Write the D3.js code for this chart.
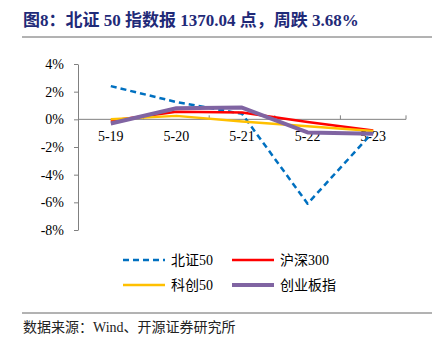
<!DOCTYPE html>
<html>
<head>
<meta charset="utf-8">
<script src="https://cdn.jsdelivr.net/npm/d3@7"></script>
<style>
  body { margin: 0; background: #fff; }
  svg { display: block; }
</style>
</head>
<body>
<svg id="chart" width="444" height="351"></svg>
<script>
// data
const dates = ['5-19', '5-20', '5-21', '5-22', '5-23'];
const bz50 = [2.4, 1.25, 0.4, -6.1, -0.9];
const hs300 = [-0.1, 0.55, 0.5, -0.2, -0.8];
const kc50 = [0.0, 0.25, -0.15, -0.5, -0.85];
const cybz = [-0.3, 0.8, 0.85, -0.95, -1.05];
const yTicks = [4, 2, 0, -2, -4, -6, -8];

const series = [
  { name: '北证50', values: bz50, color: '#0070c0', width: 2.5, dash: '6,4' },
  { name: '沪深300', values: hs300, color: '#ff0000', width: 2.5, dash: null },
  { name: '科创50', values: kc50, color: '#ffc000', width: 2.5, dash: null },
  { name: '创业板指', values: cybz, color: '#8064a2', width: 4, dash: null },
];

const svg = d3.select('#chart');
const serif = '"Liberation Serif", "Times New Roman", "Noto Sans CJK SC", serif';

// title + rules
svg.append('text')
  .attr('x', 23).attr('y', 26)
  .attr('fill', '#1f2a78')
  .attr('font-family', serif)
  .attr('font-weight', 'bold')
  .attr('font-size', 17)
  .text('图8：北证 50 指数报 1370.04 点，周跌 3.68%');
svg.append('line').attr('x1', 22).attr('x2', 432).attr('y1', 37).attr('y2', 37)
  .attr('stroke', '#666').attr('stroke-width', 1);
svg.append('line').attr('x1', 22).attr('x2', 432).attr('y1', 313).attr('y2', 313)
  .attr('stroke', '#666').attr('stroke-width', 1);
svg.append('text')
  .attr('x', 23).attr('y', 332)
  .attr('fill', '#222')
  .attr('font-family', serif)
  .attr('font-size', 14)
  .text('数据来源：Wind、开源证券研究所');

const x = d3.scaleBand().domain(dates).range([78, 406]);
const y = d3.scaleLinear().domain([-8, 4]).range([230, 64]);

// y axis
const yAxis = svg.append('g')
  .attr('transform', 'translate(78,0)')
  .call(d3.axisLeft(y).tickValues(yTicks).tickSize(4).tickSizeOuter(0)
    .tickFormat((d) => d + '%'));
yAxis.select('.domain').attr('stroke', '#808080');
yAxis.selectAll('.tick line').attr('stroke', '#808080');
yAxis.selectAll('.tick text')
  .attr('font-family', serif).attr('font-size', 14).attr('fill', '#000')
  .attr('x', -14);

// zero line with category ticks pointing up
const xAxis = svg.append('g').attr('transform', `translate(0,${y(0)})`);
xAxis.append('line').attr('x1', 78).attr('x2', 406).attr('y1', 0).attr('y2', 0)
  .attr('stroke', '#808080').attr('stroke-width', 1);
const bounds = dates.map((d) => x(d)).concat([x(dates[dates.length - 1]) + x.bandwidth()]);
xAxis.selectAll('line.tk').data(bounds.slice(1)).join('line')
  .attr('class', 'tk')
  .attr('x1', (d) => d).attr('x2', (d) => d)
  .attr('y1', 0).attr('y2', -4)
  .attr('stroke', '#808080');
xAxis.selectAll('text').data(dates).join('text')
  .attr('x', (d) => x(d) + x.bandwidth() / 2)
  .attr('y', 22)
  .attr('text-anchor', 'middle')
  .attr('font-family', serif).attr('font-size', 14).attr('fill', '#000')
  .text((d) => d);

// lines
const line = d3.line()
  .x((d, i) => x(dates[i]) + x.bandwidth() / 2)
  .y((d) => y(d));

series.forEach((s) => {
  svg.append('path')
    .datum(s.values)
    .attr('d', line)
    .attr('fill', 'none')
    .attr('stroke', s.color)
    .attr('stroke-width', s.width)
    .attr('stroke-dasharray', s.dash)
    .attr('stroke-linejoin', 'round');
});

// legend
const legendPos = [[123, 260], [232, 260], [123, 285], [232, 285]];
series.forEach((s, i) => {
  const [lx, ly] = legendPos[i];
  const g = svg.append('g').attr('transform', `translate(${lx},${ly})`);
  g.append('line').attr('x1', 0).attr('x2', 42).attr('y1', 0).attr('y2', 0)
    .attr('stroke', s.color).attr('stroke-width', s.width)
    .attr('stroke-dasharray', s.dash);
  g.append('text').attr('x', 48).attr('y', 5)
    .attr('font-family', serif).attr('font-size', 14).attr('fill', '#000')
    .text(s.name);
});
</script>
</body>
</html>
